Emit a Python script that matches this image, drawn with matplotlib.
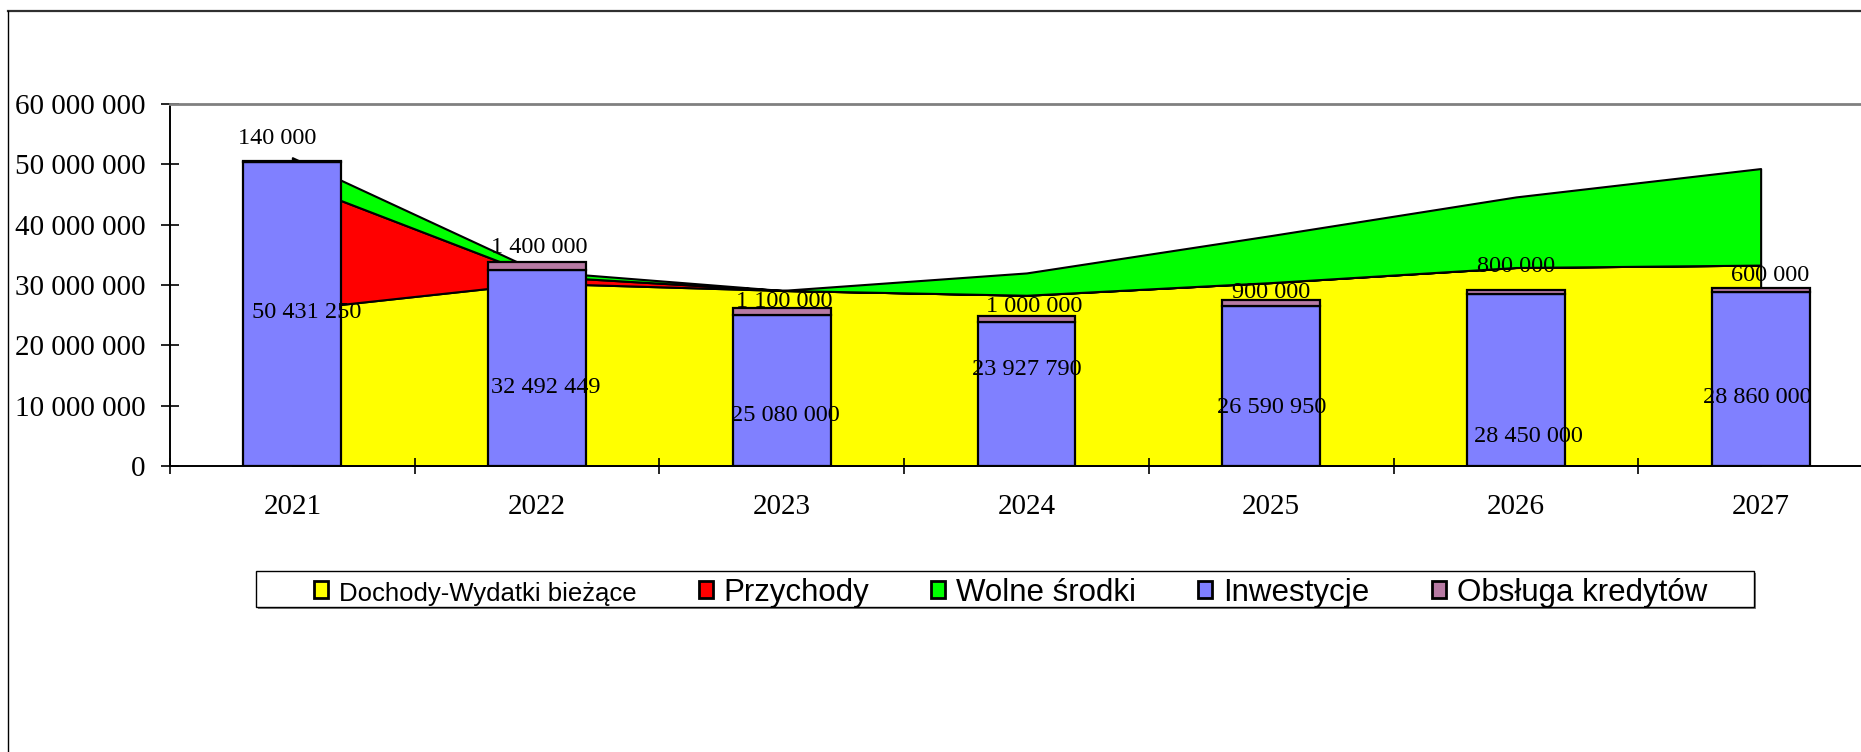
import numpy as np
import matplotlib
matplotlib.use("Agg")
import matplotlib.pyplot as plt
from matplotlib.patches import Rectangle, Patch
from matplotlib.lines import Line2D

plt.rcParams['font.family'] = ['Liberation Serif', 'DejaVu Serif']

# dane
lata = ["2021", "2022", "2023", "2024", "2025", "2026", "2027"]
dochody_wydatki = [25.9e6, 30.3e6, 29.1e6, 28.3e6, 30.4e6, 32.9e6, 33.3e6]
przychody = [21.2e6, 1.2e6, 0.0, 0.0, 0.0, 0.0, 0.0]
wolne_srodki = [4.0e6, 0.8e6, 0.0, 3.7e6, 7.8e6, 11.7e6, 16.0e6]
inwestycje = [50431250, 32492449, 25080000, 23927790, 26590950, 28450000, 28860000]
obsluga_kredytow = [140000, 1400000, 1100000, 1000000, 900000, 800000, 600000]

# polozenie etykiet (przesuniecie w x, wysokosc w y)
inw_lab_dx = [0.06, 0.037, 0.016, 0.0, 0.0, 0.053, -0.012]
inw_lab_y = [25.9e6, 13.4e6, 8.8e6, 16.4e6, 10.1e6, 5.3e6, 11.8e6]
obs_lab_dx = [-0.06, 0.01, 0.01, 0.03, 0.0, 0.0, 0.04]
obs_lab_y = [54.7e6, 36.6e6, 27.7e6, 26.85e6, 29.2e6, 33.5e6, 32.0e6]

W, H = 1861, 752


def fmt(v):
    return f"{int(round(v)):,}".replace(",", " ")


fig = plt.figure(figsize=(W / 100, H / 100), dpi=100)
ax = fig.add_axes([170 / W, 1 - 466 / H, 1713 / W, 362 / H])

x = np.arange(len(lata))
y1 = np.array(dochody_wydatki)
y2 = y1 + np.array(przychody)
y3 = y2 + np.array(wolne_srodki)

ax.fill_between(x, 0, y1, facecolor="#ffff00", edgecolor="black", lw=1.5, zorder=1)
ax.fill_between(x, y1, y2, facecolor="#ff0000", edgecolor="black", lw=1.5, zorder=1)
ax.fill_between(x, y2, y3, facecolor="#00ff00", edgecolor="black", lw=1.5, zorder=1)

ax.bar(x, inwestycje, width=0.4, color="#8080ff", edgecolor="black", lw=1.6, zorder=2)
ax.bar(x, obsluga_kredytow, width=0.4, bottom=inwestycje, color="#b77aa3",
       edgecolor="black", lw=1.6, zorder=2)

for i in range(len(lata)):
    ax.text(x[i] + inw_lab_dx[i], inw_lab_y[i], fmt(inwestycje[i]), ha="center",
            va="center_baseline", fontsize=17.5, zorder=5)
    ax.text(x[i] + obs_lab_dx[i], obs_lab_y[i], fmt(obsluga_kredytow[i]), ha="center",
            va="center_baseline", fontsize=17.5, zorder=5)

ax.set_xlim(-0.5, len(lata) - 0.5)
ax.set_ylim(0, 60e6)
yt = np.arange(0, 60e6 + 1, 10e6)
ax.set_yticks(yt)
ax.set_yticklabels([fmt(v) for v in yt], fontsize=21)
ax.tick_params(axis="y", direction="inout", length=13.5, width=1.2, pad=11)

ax.set_xticks(np.arange(-0.5, len(lata), 1.0))
ax.set_xticklabels([])
ax.set_xticks(x, minor=True)
ax.set_xticklabels(lata, minor=True, fontsize=21)
ax.tick_params(axis="x", which="major", direction="inout", length=12, width=1.2)
ax.tick_params(axis="x", which="minor", length=0, pad=20)

ax.spines["right"].set_visible(False)
ax.spines["top"].set_color("#808080")
ax.spines["top"].set_linewidth(2)
ax.spines["left"].set_linewidth(1.4)
ax.spines["bottom"].set_linewidth(1.4)

# ramka calego wykresu
fig.add_artist(Line2D([8 / W, 1], [1 - 11 / H] * 2, color="#303030", lw=1.6))
fig.add_artist(Line2D([8 / W] * 2, [0, 1 - 11 / H], color="black", lw=1.0))

# legenda
lx0, lx1, ly0, ly1 = 256, 1754, 571, 607
fig.add_artist(Rectangle(((lx0 + 2) / W, 1 - (ly1 + 2) / H), (lx1 - lx0) / W, (ly1 - ly0) / H,
                         transform=fig.transFigure, facecolor="#808080", edgecolor="none", zorder=1))
fig.add_artist(Rectangle((lx0 / W, 1 - ly1 / H), (lx1 - lx0) / W, (ly1 - ly0) / H,
                         transform=fig.transFigure, facecolor="white", edgecolor="black", lw=1.0, zorder=2))

handles = [
    Patch(facecolor="#ffff00", edgecolor="black", lw=2),
    Patch(facecolor="#ff0000", edgecolor="black", lw=2),
    Patch(facecolor="#00ff00", edgecolor="black", lw=2),
    Patch(facecolor="#8080ff", edgecolor="black", lw=2),
    Patch(facecolor="#b77aa3", edgecolor="black", lw=2),
]
labels = ["Dochody-Wydatki bieżące", "Przychody", "Wolne środki", "Inwestycje", "Obsługa kredytów"]
leg = fig.legend(handles, labels, ncol=5, loc="center", mode="expand",
                 bbox_to_anchor=(314 / W, 1 - (ly1 + 4) / H, (1707 - 314) / W, (ly1 - ly0) / H),
                 frameon=False, borderaxespad=0, borderpad=0,
                 prop={"family": ["Liberation Sans", "DejaVu Sans"], "size": 22.5},
                 handlelength=0.45, handleheight=0.45, handletextpad=0.35)
leg.set_zorder(5)
leg.get_texts()[0].set_fontsize(18.5)

fig.savefig("out.png", dpi=100)
